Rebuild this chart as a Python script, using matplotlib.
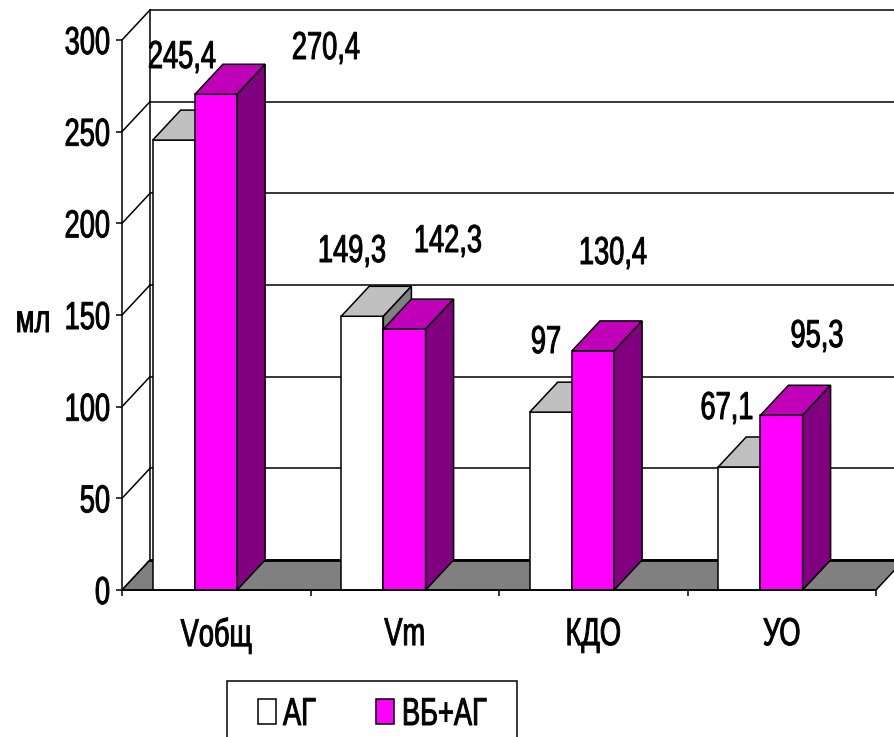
import matplotlib
matplotlib.use('Agg')
import matplotlib.pyplot as plt
from matplotlib.patches import Polygon, Rectangle
from matplotlib.patheffects import AbstractPathEffect
from matplotlib.transforms import Affine2D

categories = ['Vобщ', 'Vm', 'КДО', 'УО']
series_names = ['АГ', 'ВБ+АГ']
ag = [245.4, 149.3, 97, 67.1]
vb_ag = [270.4, 142.3, 130.4, 95.3]
y_ticks = [0, 50, 100, 150, 200, 250, 300]

# label placement in pixels from the top left corner (centre x, baseline y)
ag_label_pos = [(182, 68), (352, 262), (546, 353), (727, 419)]
vb_label_pos = [(326, 59), (448, 252), (613, 264), (817, 347)]

W, H = 894, 737
X0, Y0 = 122, 590        # front corner of the chart
CAT_W = 188.5            # pixels per category
ML = 550 / 300           # pixels per ml
DX, DY = 28 / CAT_W, 30 / ML   # 3d depth in data units
BAR_W = 42.2 / CAT_W
BAR_OFF = 30.7 / CAT_W

FONT = 'Liberation Sans'
SIZE = 28
SQUEEZE = 0.7
STROKE = 0.7


class Squeeze(AbstractPathEffect):
    # narrows a text horizontally around its anchor point and thickens it a little
    def __init__(self, text, sx):
        super().__init__()
        self.text = text
        self.sx = sx

    def draw_path(self, renderer, gc, tpath, affine, rgbFace=None):
        ax_, _ = self.text.get_transform().transform(self.text.get_unitless_position())
        squeeze = Affine2D().translate(-ax_, 0).scale(self.sx, 1).translate(ax_, 0)
        gc0 = renderer.new_gc()
        gc0.copy_properties(gc)
        gc0.set_linewidth(STROKE)
        gc0.set_foreground('black')
        renderer.draw_path(gc0, tpath, affine + squeeze, rgbFace)
        gc0.restore()


def narrow(t):
    t.set_path_effects([Squeeze(t, SQUEEZE)])
    return t


fig = plt.figure(figsize=(W / 100, H / 100), dpi=100, facecolor='white')
ax = fig.add_axes([0, 0, 1, 1])
ax.set_xlim(-X0 / CAT_W, (W - X0) / CAT_W)
ax.set_ylim((Y0 - H) / ML, Y0 / ML)
ax.patch.set_visible(False)

px = Affine2D().scale(1, -1).translate(0, H)   # pixel coords, y going down
LW = 1.1

# floor
n = len(categories)
ax.add_patch(Polygon([(0, 0), (n, 0), (n + DX, DY), (DX, DY)], fc='#808080', ec='black', lw=LW, zorder=2))
ax.plot([DX, n + DX], [DY, DY], color='black', lw=2, zorder=2)

# back wall lines
for v in y_ticks:
    ax.plot([0, DX], [v, v + DY], color='black', lw=LW, zorder=1)
    if v > 0:
        ax.plot([DX, n + DX], [v + DY, v + DY], color='black', lw=LW, zorder=1)
ax.plot([DX, DX], [DY, 300 + DY], color='black', lw=LW, zorder=1)


def bar3d(x, v, front, top, side, z):
    ax.bar(x, v, BAR_W, align='edge', color=front, edgecolor='black', lw=LW, zorder=z)
    r = x + BAR_W
    ax.add_patch(Polygon([(x, v), (r, v), (r + DX, v + DY), (x + DX, v + DY)],
                         fc=top, ec='black', lw=LW, zorder=z))
    ax.add_patch(Polygon([(r, 0), (r + DX, DY), (r + DX, v + DY), (r, v)],
                         fc=side, ec='black', lw=LW, zorder=z))


for i in range(n):
    x = i + BAR_OFF
    bar3d(x, ag[i], 'white', '#c0c0c0', '#808080', 3 + i * 2)
    bar3d(x + BAR_W, vb_ag[i], '#ff00ff', '#c000b8', '#800080', 4 + i * 2)

# axes
for s in ['top', 'right']:
    ax.spines[s].set_visible(False)
ax.spines['left'].set_position(('data', 0))
ax.spines['bottom'].set_position(('data', 0))
ax.spines['left'].set_bounds(0, 300)
ax.spines['bottom'].set_bounds(0, n)
ax.spines['left'].set_linewidth(LW)
ax.spines['bottom'].set_linewidth(LW)
ax.spines['left'].set_zorder(20)
ax.spines['bottom'].set_zorder(20)

ax.set_yticks(y_ticks)
ax.set_xticks(range(n + 1))
ax.set_xticklabels([])
ax.set_xticks([i + 0.5 for i in range(n)], categories, minor=True)
ax.tick_params(axis='both', which='major', length=4.3, width=LW, direction='out')
ax.tick_params(axis='y', pad=4.3, labelsize=SIZE)
ax.tick_params(axis='x', which='minor', length=0, pad=19.5, labelsize=SIZE)
for t in ax.get_yticklabels() + ax.get_xticklabels(minor=True):
    t.set_family(FONT)
    narrow(t)

narrow(ax.text(33, 332, 'мл', transform=px, ha='center', va='baseline', family=FONT, fontsize=SIZE))

# value labels
for vals, pos in [(ag, ag_label_pos), (vb_ag, vb_label_pos)]:
    for v, (lx, ly) in zip(vals, pos):
        s = f'{v:g}'.replace('.', ',')
        narrow(ax.text(lx, ly, s, transform=px, ha='center', va='baseline',
                       family=FONT, fontsize=SIZE, zorder=30))

# legend box runs off the bottom edge
ax.add_patch(Rectangle((227, 681), 290, 80, transform=px, fc='white', ec='black', lw=LW, zorder=25))
ax.add_patch(Rectangle((257.5, 699), 18, 25, transform=px, fc='white', ec='black', lw=LW, zorder=26))
ax.add_patch(Rectangle((376, 699), 18, 25, transform=px, fc='#ff00ff', ec='black', lw=LW, zorder=26))
narrow(ax.text(283, 725, series_names[0], transform=px, ha='left', va='baseline',
               family=FONT, fontsize=SIZE, zorder=27))
narrow(ax.text(402, 725, series_names[1], transform=px, ha='left', va='baseline',
               family=FONT, fontsize=SIZE, zorder=27))

fig.savefig('out.png', dpi=100)
